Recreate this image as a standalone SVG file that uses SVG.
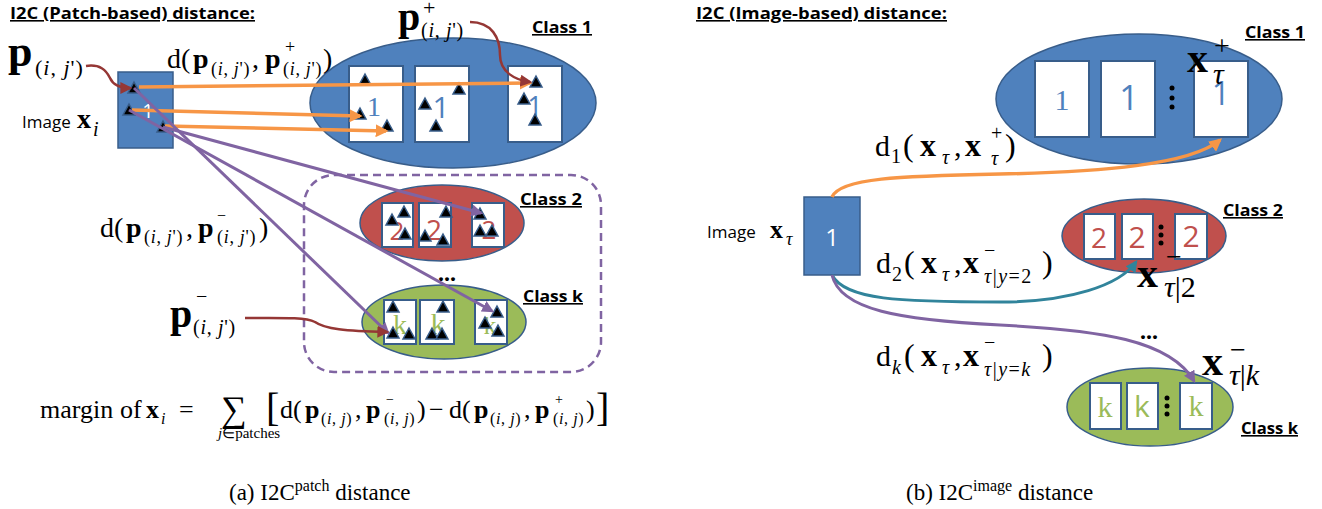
<svg xmlns="http://www.w3.org/2000/svg" width="1322" height="509" viewBox="0 0 1322 509">
<style>
.ttl{font-family:"Open Sans","Liberation Sans",sans-serif;font-weight:bold;font-size:16px;text-decoration:underline;fill:#000}
.lbl{font-family:"Open Sans","Liberation Sans",sans-serif;font-size:17px;fill:#000}
.m{font-family:"Liberation Serif","Times New Roman",serif;fill:#000}
.b{font-weight:bold}
.i{font-style:italic}
.patch{fill:#fff;stroke:#385D8A;stroke-width:2}
.img{fill:#4F81BD;stroke:#385D8A;stroke-width:1.5}
.e1{fill:#4F81BD;stroke:#385D8A;stroke-width:1.5}
.e2{fill:#C0504D;stroke:#385D8A;stroke-width:1.5}
.ek{fill:#9BBB59;stroke:#385D8A;stroke-width:1.5}
.tri{fill:#000;stroke:#385D8A;stroke-width:1.5}
.or{fill:none;stroke:#F79646;stroke-width:3.5}
.pu{fill:none;stroke:#8064A2;stroke-width:3}
.rd{fill:none;stroke:#953735;stroke-width:2.5}
.te{fill:none;stroke:#31849B;stroke-width:3}
.dash{fill:none;stroke:#8064A2;stroke-width:2.5;stroke-dasharray:8 5}
.d1{fill:#4F81BD}
.d2{fill:#C0504D}
.dk{fill:#9BBB59}
.sans{font-family:"Open Sans","Liberation Sans",sans-serif}
.ser{font-family:"Liberation Serif",serif}
</style>
<defs>
<path id="tri" d="M0,-6 L6,5 L-6,5 Z"/>
<marker id="aO" viewBox="0 0 10 10" refX="8" refY="5" markerWidth="13" markerHeight="13" markerUnits="userSpaceOnUse" orient="auto"><path d="M0,0 L10,5 L0,10 Z" fill="#F79646"/></marker>
<marker id="aP" viewBox="0 0 10 10" refX="8" refY="5" markerWidth="12" markerHeight="12" markerUnits="userSpaceOnUse" orient="auto"><path d="M0,0 L10,5 L0,10 Z" fill="#8064A2"/></marker>
<marker id="aR" viewBox="0 0 10 10" refX="8" refY="5" markerWidth="12" markerHeight="12" markerUnits="userSpaceOnUse" orient="auto"><path d="M0,0 L10,5 L0,10 Z" fill="#953735"/></marker>
<marker id="aT" viewBox="0 0 10 10" refX="8" refY="5" markerWidth="12" markerHeight="12" markerUnits="userSpaceOnUse" orient="auto"><path d="M0,0 L10,5 L0,10 Z" fill="#31849B"/></marker>
</defs>
<rect width="1322" height="509" fill="#fff"/>

<!-- ===== LEFT PANEL ===== -->
<text class="ttl" x="10" y="19" textLength="245" lengthAdjust="spacingAndGlyphs">I2C (Patch-based) distance:</text>

<g id="left-negbox"><rect class="dash" x="304" y="175" width="297" height="197" rx="30"/></g>

<g id="left-class1">
<ellipse class="e1" cx="453" cy="103" rx="143" ry="65"/>
<rect class="patch" x="349" y="66" width="54" height="76"/>
<rect class="patch" x="415" y="66" width="54" height="76"/>
<rect class="patch" x="508" y="66" width="54" height="76"/>
<text class="ser d1" x="374" y="116" font-size="28" text-anchor="middle">1</text>
<text class="sans d1" x="441" y="118" font-size="30" text-anchor="middle">1</text>
<text class="sans d1" x="535" y="116" font-size="27" text-anchor="middle">1</text>
<use href="#tri" class="tri" x="365" y="80"/><use href="#tri" class="tri" x="360" y="114"/><use href="#tri" class="tri" x="387" y="126"/>
<use href="#tri" class="tri" x="425" y="104"/><use href="#tri" class="tri" x="459" y="89"/><use href="#tri" class="tri" x="436" y="126"/>
<use href="#tri" class="tri" x="536" y="82"/><use href="#tri" class="tri" x="524" y="99"/><use href="#tri" class="tri" x="535" y="120"/>
<text class="ttl" x="532" y="33" textLength="60" lengthAdjust="spacingAndGlyphs">Class 1</text>
</g>

<g id="left-class2">
<ellipse class="e2" cx="442" cy="223" rx="82" ry="38"/>
<rect class="patch" x="382" y="203" width="31" height="44"/>
<rect class="patch" x="419" y="203" width="32" height="44"/>
<rect class="patch" x="472" y="203" width="32" height="44"/>
<text class="sans d2" x="397" y="240" font-size="26" text-anchor="middle">2</text>
<text class="sans d2" x="434" y="240" font-size="28" text-anchor="middle">2</text>
<text class="sans d2" x="489" y="239" font-size="26" text-anchor="middle">2</text>
<use href="#tri" class="tri" x="392" y="220"/><use href="#tri" class="tri" x="404" y="212"/><use href="#tri" class="tri" x="405" y="234"/>
<use href="#tri" class="tri" x="446" y="212"/><use href="#tri" class="tri" x="425" y="236"/><use href="#tri" class="tri" x="443" y="240"/>
<use href="#tri" class="tri" x="480" y="214"/><use href="#tri" class="tri" x="480" y="231"/><use href="#tri" class="tri" x="492" y="231"/>
<text class="ttl" x="520" y="205" textLength="62" lengthAdjust="spacingAndGlyphs">Class 2</text>
</g>

<text class="m b" x="447" y="281" font-size="24" text-anchor="middle">...</text>

<g id="left-classk">
<ellipse class="ek" cx="444" cy="322" rx="82" ry="37"/>
<rect class="patch" x="384" y="300" width="32" height="44"/>
<rect class="patch" x="420" y="300" width="34" height="44"/>
<rect class="patch" x="475" y="300" width="32" height="44"/>
<text class="ser dk" x="400" y="334" font-size="28" text-anchor="middle">k</text>
<text class="ser dk" x="438" y="334" font-size="30" text-anchor="middle">k</text>
<text class="ser dk" x="490" y="334" font-size="26" text-anchor="middle">k</text>
<use href="#tri" class="tri" x="393" y="307"/><use href="#tri" class="tri" x="393" y="333"/><use href="#tri" class="tri" x="409" y="334"/>
<use href="#tri" class="tri" x="443" y="307"/><use href="#tri" class="tri" x="432" y="334"/><use href="#tri" class="tri" x="442" y="334"/>
<use href="#tri" class="tri" x="497" y="312"/><use href="#tri" class="tri" x="485" y="323"/><use href="#tri" class="tri" x="498" y="331"/>
<text class="ttl" x="523" y="302" textLength="60" lengthAdjust="spacingAndGlyphs">Class k</text>
</g>

<g id="left-image">
<rect class="img" x="118" y="72" width="55" height="76"/>
<text class="sans" x="148" y="118" font-size="20" fill="#fff" text-anchor="middle">1</text>
<use href="#tri" class="tri" x="134" y="88"/><use href="#tri" class="tri" x="129" y="110"/><use href="#tri" class="tri" x="163" y="127"/>
<text class="lbl" x="22" y="128">Image</text>
<text class="m b" x="77" y="128" font-size="28">x</text>
<text class="m i" x="93" y="136" font-size="20">i</text>
</g>

<!-- left labels -->
<g id="lbl-p-anchor">
<text class="m b" x="8" y="66" font-size="44">p</text>
<text class="m" x="35" y="75" font-size="22" letter-spacing="1">(<tspan class="i">i</tspan>, <tspan class="i">j</tspan>')</text>
</g>
<g id="lbl-dpos">
<text class="m" x="167" y="68" font-size="28">d(</text>
<text class="m b" x="193" y="68" font-size="28">p</text>
<text class="m" x="211" y="75" font-size="18" letter-spacing="0.7">(<tspan class="i">i</tspan>, <tspan class="i">j</tspan>')</text>
<text class="m" x="252" y="68" font-size="28">,</text>
<text class="m b" x="265" y="68" font-size="28">p</text>
<text class="m" x="285" y="53" font-size="18">+</text>
<text class="m" x="283" y="75" font-size="18" letter-spacing="0.7">(<tspan class="i">i</tspan>, <tspan class="i">j</tspan>')</text>
<text class="m" x="323" y="68" font-size="28">)</text>
</g>
<g id="lbl-ppos">
<text class="m b" x="398" y="30" font-size="40">p</text>
<text class="m" x="423" y="15" font-size="22">+</text>
<text class="m" x="421" y="37" font-size="20" letter-spacing="0.7">(<tspan class="i">i</tspan>, <tspan class="i">j</tspan>')</text>
</g>
<g id="lbl-dneg">
<text class="m" x="100" y="237" font-size="28">d(</text>
<text class="m b" x="126" y="237" font-size="28">p</text>
<text class="m" x="144" y="243" font-size="18" letter-spacing="0.7">(<tspan class="i">i</tspan>, <tspan class="i">j</tspan>')</text>
<text class="m" x="186" y="237" font-size="28">,</text>
<text class="m b" x="198" y="237" font-size="28">p</text>
<text class="m" x="217" y="221" font-size="16">−</text>
<text class="m" x="217" y="243" font-size="18" letter-spacing="0.7">(<tspan class="i">i</tspan>, <tspan class="i">j</tspan>')</text>
<text class="m" x="259" y="237" font-size="28">)</text>
</g>
<g id="lbl-pneg">
<text class="m b" x="170" y="327" font-size="40">p</text>
<text class="m" x="196" y="303" font-size="20">−</text>
<text class="m" x="193" y="334" font-size="20" letter-spacing="0.7">(<tspan class="i">i</tspan>, <tspan class="i">j</tspan>')</text>
</g>

<g id="margin-formula">
<text class="m" x="40" y="418" font-size="26">margin</text>
<text class="m" x="120" y="418" font-size="26">of</text>
<text class="m b" x="146" y="418" font-size="26">x</text>
<text class="m i" x="161" y="424" font-size="16">i</text>
<text class="m" x="179" y="418" font-size="26">=</text>
<text class="m" x="221" y="421" font-size="36">∑</text>
<text class="m" x="218" y="438" font-size="15"><tspan class="i">j</tspan>∈patches</text>
<text class="m" x="266" y="421" font-size="40">[</text>
<text class="m" x="280" y="418" font-size="26">d(</text>
<text class="m b" x="305" y="418" font-size="26">p</text>
<text class="m" x="321" y="424" font-size="16" letter-spacing="0.6">(<tspan class="i">i</tspan>, <tspan class="i">j</tspan>)</text>
<text class="m" x="355" y="418" font-size="26">,</text>
<text class="m b" x="366" y="418" font-size="26">p</text>
<text class="m" x="386" y="404" font-size="14">−</text>
<text class="m" x="384" y="424" font-size="16" letter-spacing="0.6">(<tspan class="i">i</tspan>, <tspan class="i">j</tspan>)</text>
<text class="m" x="417" y="418" font-size="26">)</text>
<text class="m" x="429" y="418" font-size="26">−</text>
<text class="m" x="449" y="418" font-size="26">d(</text>
<text class="m b" x="474" y="418" font-size="26">p</text>
<text class="m" x="490" y="424" font-size="16" letter-spacing="0.6">(<tspan class="i">i</tspan>, <tspan class="i">j</tspan>)</text>
<text class="m" x="524" y="418" font-size="26">,</text>
<text class="m b" x="535" y="418" font-size="26">p</text>
<text class="m" x="555" y="404" font-size="14">+</text>
<text class="m" x="553" y="424" font-size="16" letter-spacing="0.6">(<tspan class="i">i</tspan>, <tspan class="i">j</tspan>)</text>
<text class="m" x="586" y="418" font-size="26">)</text>
<text class="m" x="596" y="421" font-size="40">]</text>
</g>

<text class="m" x="229" y="500" font-size="23">(a) I2C<tspan font-size="16" dy="-9">patch</tspan><tspan dy="9"> distance</tspan></text>

<!-- ===== RIGHT PANEL ===== -->
<text class="ttl" x="696" y="19" textLength="251" lengthAdjust="spacingAndGlyphs">I2C (Image-based) distance:</text>

<g id="right-class1">
<ellipse class="e1" cx="1139" cy="99" rx="143" ry="65"/>
<rect class="patch" x="1035" y="61" width="54" height="76"/>
<rect class="patch" x="1101" y="61" width="54" height="76"/>
<rect class="patch" x="1194" y="61" width="54" height="76"/>
<text class="ser d1" x="1062" y="110" font-size="30" text-anchor="middle">1</text>
<text class="sans d1" x="1129" y="110" font-size="34" text-anchor="middle">1</text>
<text class="sans d1" x="1221" y="105" font-size="32" text-anchor="middle">1</text>
<circle cx="1172" cy="88" r="2.5"/><circle cx="1172" cy="98" r="2.5"/><circle cx="1172" cy="107" r="2.5"/>
<text class="ttl" x="1245" y="38" textLength="60" lengthAdjust="spacingAndGlyphs">Class 1</text>
<text class="m b" x="1187" y="72" font-size="42">x</text>
<text class="m" x="1214" y="55" font-size="28">+</text>
<text class="m i" x="1213" y="84" font-size="30">τ</text>
</g>

<g id="right-image">
<rect class="img" x="804" y="197" width="56" height="78"/>
<text class="sans" x="832" y="246" font-size="24" fill="#fff" text-anchor="middle">1</text>
<text class="lbl" x="707" y="238">Image</text>
<text class="m b" x="770" y="238" font-size="26">x</text>
<text class="m i" x="786" y="245" font-size="18">τ</text>
</g>

<g id="right-class2">
<ellipse class="e2" cx="1144" cy="236" rx="82" ry="37"/>
<rect class="patch" x="1084" y="214" width="31" height="45"/>
<rect class="patch" x="1122" y="214" width="31" height="45"/>
<rect class="patch" x="1175" y="214" width="32" height="45"/>
<text class="sans d2" x="1099" y="248" font-size="28" text-anchor="middle">2</text>
<text class="sans d2" x="1137" y="248" font-size="30" text-anchor="middle">2</text>
<text class="sans d2" x="1191" y="247" font-size="30" text-anchor="middle">2</text>
<circle cx="1161" cy="227" r="2.5"/><circle cx="1161" cy="235" r="2.5"/><circle cx="1161" cy="243" r="2.5"/>
<text class="ttl" x="1223" y="216" textLength="60" lengthAdjust="spacingAndGlyphs">Class 2</text>
<text class="m b" x="1137" y="287" font-size="42">x</text>
<text class="m" x="1166" y="266" font-size="28">−</text>
<text class="m" x="1164" y="297" font-size="30"><tspan class="i">τ</tspan>|2</text>
</g>

<text class="m b" x="1149" y="339" font-size="24" text-anchor="middle">...</text>

<g id="right-classk">
<ellipse class="ek" cx="1150" cy="407" rx="83" ry="39"/>
<rect class="patch" x="1090" y="383" width="31" height="46"/>
<rect class="patch" x="1127" y="383" width="31" height="46"/>
<rect class="patch" x="1180" y="383" width="32" height="46"/>
<text class="ser dk" x="1105" y="417" font-size="30" text-anchor="middle">k</text>
<text class="sans dk" x="1142" y="417" font-size="30" text-anchor="middle">k</text>
<text class="ser dk" x="1196" y="416" font-size="30" text-anchor="middle">k</text>
<circle cx="1167" cy="398" r="2.5"/><circle cx="1167" cy="406" r="2.5"/><circle cx="1167" cy="414" r="2.5"/>
<text class="ttl" x="1241" y="434" textLength="57" lengthAdjust="spacingAndGlyphs">Class k</text>
<text class="m b" x="1202" y="375" font-size="42">x</text>
<text class="m" x="1230" y="359" font-size="28">−</text>
<text class="m" x="1229" y="385" font-size="30"><tspan class="i">τ</tspan>|<tspan class="i">k</tspan></text>
</g>

<g id="lbl-d1">
<text class="m" x="875" y="156" font-size="30">d</text>
<text class="m" x="891" y="163" font-size="20">1</text>
<text class="m" x="903" y="156" font-size="32">(</text>
<text class="m b" x="920" y="156" font-size="32">x</text>
<text class="m i" x="942" y="164" font-size="20">τ</text>
<text class="m" x="954" y="156" font-size="30">,</text>
<text class="m b" x="965" y="156" font-size="32">x</text>
<text class="m" x="991" y="140" font-size="20">+</text>
<text class="m i" x="991" y="165" font-size="20">τ</text>
<text class="m" x="1005" y="156" font-size="32">)</text>
</g>
<g id="lbl-d2">
<text class="m" x="876" y="273" font-size="30">d</text>
<text class="m" x="892" y="281" font-size="20">2</text>
<text class="m" x="904" y="273" font-size="32">(</text>
<text class="m b" x="921" y="273" font-size="32">x</text>
<text class="m i" x="942" y="281" font-size="20">τ</text>
<text class="m" x="954" y="273" font-size="30">,</text>
<text class="m b" x="963" y="273" font-size="32">x</text>
<text class="m" x="984" y="257" font-size="20">−</text>
<text class="m" x="984" y="283" font-size="20" letter-spacing="1.5"><tspan class="i">τ</tspan>|<tspan class="i">y</tspan>=2</text>
<text class="m" x="1042" y="273" font-size="32">)</text>
</g>
<g id="lbl-dk">
<text class="m" x="876" y="366" font-size="30">d</text>
<text class="m i" x="892" y="374" font-size="20">k</text>
<text class="m" x="904" y="366" font-size="32">(</text>
<text class="m b" x="921" y="366" font-size="32">x</text>
<text class="m i" x="942" y="374" font-size="20">τ</text>
<text class="m" x="954" y="366" font-size="30">,</text>
<text class="m b" x="963" y="366" font-size="32">x</text>
<text class="m" x="984" y="349" font-size="20">−</text>
<text class="m" x="984" y="376" font-size="20" letter-spacing="1.5"><tspan class="i">τ</tspan>|<tspan class="i">y</tspan>=<tspan class="i">k</tspan></text>
<text class="m" x="1042" y="366" font-size="32">)</text>
</g>

<text class="m" x="906" y="500" font-size="23">(b) I2C<tspan font-size="16" dy="-9">image</tspan><tspan dy="9"> distance</tspan></text>

<!-- ===== CONNECTORS ===== -->
<g id="connectors">
<line class="or" x1="139" y1="87" x2="530" y2="83" marker-end="url(#aO)"/>
<line class="or" x1="132" y1="110" x2="360" y2="116" marker-end="url(#aO)"/>
<line class="or" x1="165" y1="126" x2="386" y2="131" marker-end="url(#aO)"/>
<line class="pu" x1="134" y1="88" x2="388" y2="333" marker-end="url(#aP)"/>
<line class="pu" x1="129" y1="110" x2="492" y2="311" marker-end="url(#aP)"/>
<line class="pu" x1="163" y1="127" x2="481" y2="213" marker-end="url(#aP)"/>
<path class="rd" d="M86,66 C100,64 106,70 110,78 C113,85 120,88 130,88" marker-end="url(#aR)"/>
<path class="rd" d="M470,22 C492,22 500,38 500,55 C500,72 515,80 530,82" marker-end="url(#aR)"/>
<path class="rd" d="M245,318 C280,318 305,317 315,322 C325,329 345,331 387,332" marker-end="url(#aR)"/>
<path class="or" d="M832,197 C840,178 900,176 1000,174 C1100,172 1190,165 1220,140" marker-end="url(#aO)"/>
<path class="te" d="M832,275 C845,300 900,302 1000,302 C1070,302 1120,285 1136,262" marker-end="url(#aT)"/>
<path class="pu" d="M832,275 C840,310 900,320 1000,325 C1100,330 1170,340 1194,381" marker-end="url(#aP)"/>
</g>
</svg>
